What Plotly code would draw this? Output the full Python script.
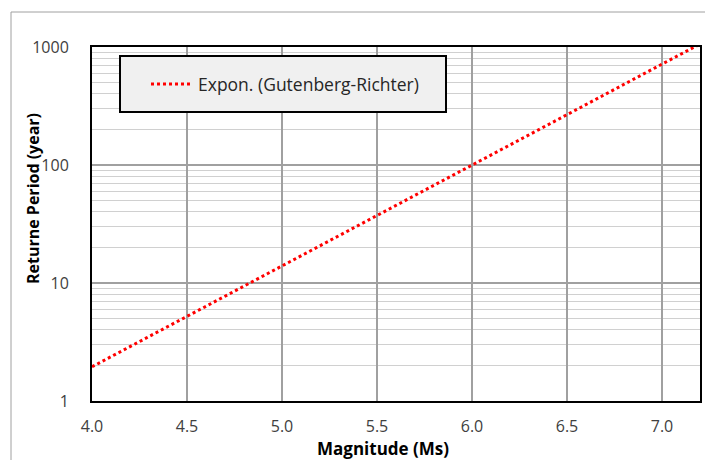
import plotly.graph_objects as go

magnitude = [4.0, 4.5, 5.0, 5.5, 6.0, 6.5, 7.0, 7.2]
return_period = [1.95, 5.2, 13.9, 37.4, 100, 267, 716, 1060]
series_name = "Expon. (Gutenberg-Richter)"
y_ticks = [1, 10, 100, 1000]
y_minor = [m * 10 ** e for e in range(3) for m in range(2, 10)]
x_title = "Magnitude (Ms)"
y_title = "Returne Period (year)"

FONT = "Open Sans"
# page body adds 8px offset: figure is placed at (8, 8)
L, R, T, B = 84, 13, 39, 59
W, H = 705, 452
PW, PH = W - L - R, H - T - B

def px(x):  # page x -> paper x
    return (x - 8 - L) / PW

def py(y):  # page y -> paper y
    return 1 - (y - 8 - T) / PH

fig = go.Figure()
fig.add_trace(go.Scatter(
    x=magnitude, y=return_period, mode="lines", name=series_name,
    line=dict(color="#ff0000", width=3, dash="dot"),
))

fig.update_layout(
    width=W, height=H,
    margin=dict(l=L, r=R, t=T, b=B),
    paper_bgcolor="white", plot_bgcolor="white",
    font=dict(family=FONT, size=16, color="#404040"),
    showlegend=True,
    legend=dict(x=px(146), y=py(66), xanchor="left", yanchor="top",
                bgcolor="rgba(0,0,0,0)", borderwidth=0,
                font=dict(family=FONT, size=17.5, color="#262626"),
                itemwidth=42),
    xaxis=dict(
        range=[4.0, 7.2], dtick=0.5, tick0=4.0, tickformat=".1f",
        showgrid=True, gridcolor="#a0a0a0", gridwidth=1.5,
        showline=True, linecolor="black", linewidth=2, mirror=True,
        ticks="", zeroline=False, ticklabelstandoff=10,
    ),
    yaxis=dict(
        type="log", range=[0, 3], tickvals=y_ticks,
        ticktext=[str(v) for v in y_ticks],
        showgrid=True, gridcolor="#a0a0a0", gridwidth=1.5,
        minor=dict(tickvals=y_minor, showgrid=True, gridcolor="#d0d0d0", gridwidth=1.2, ticks=""),
        showline=True, linecolor="black", linewidth=2, mirror=True,
        ticks="", zeroline=False, ticklabelstandoff=18,
    ),
    annotations=[
        dict(text="<b>" + x_title + "</b>", xref="paper", yref="paper",
             x=px(383), y=py(448), xanchor="center", yanchor="middle", showarrow=False,
             font=dict(family=FONT, size=17, color="black")),
        dict(text="<b>" + y_title + "</b>", xref="paper", yref="paper",
             x=px(33), y=py(199), xanchor="center", yanchor="middle", showarrow=False,
             textangle=-90, font=dict(family=FONT, size=16, color="black")),
    ],
    shapes=[
        dict(type="rect", xref="paper", yref="paper", x0=px(120), x1=px(446), y0=py(112), y1=py(56),
             fillcolor="#f0f0f0", line=dict(color="black", width=2), layer="above"),
        dict(type="rect", xref="paper", yref="paper", x0=px(11), x1=1.1, y0=-0.3, y1=py(12),
             line=dict(color="#a0a0a0", width=1), fillcolor="rgba(0,0,0,0)", layer="below"),
    ],
)

fig.write_html("out.html")
